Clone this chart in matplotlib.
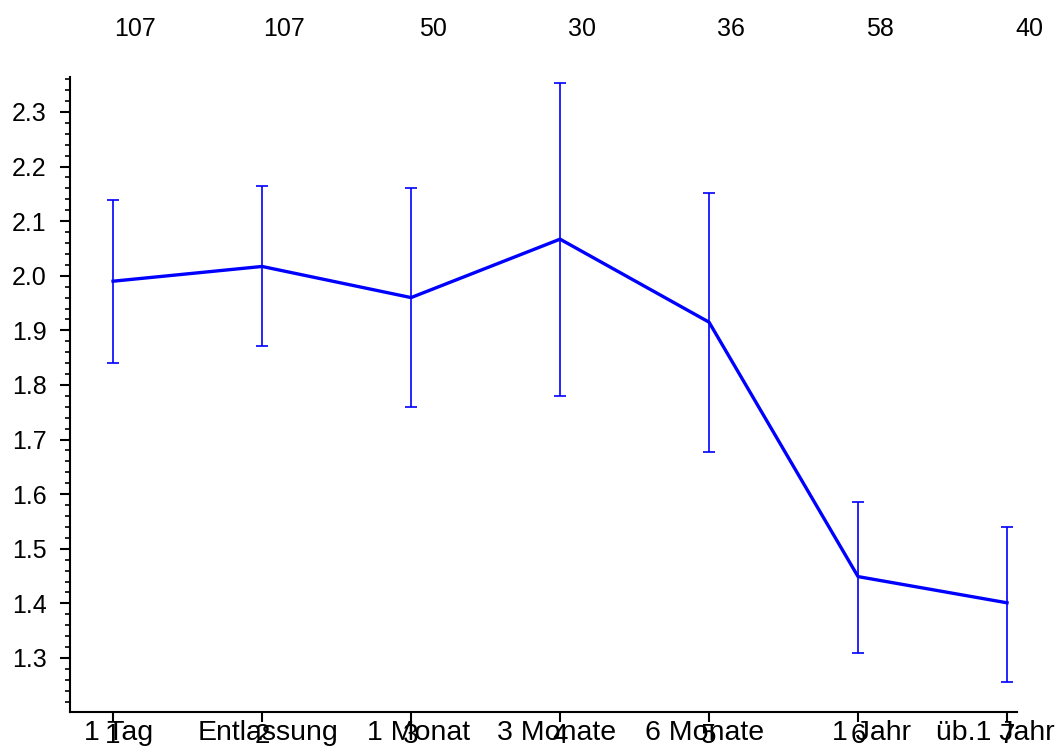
import matplotlib
matplotlib.use("Agg")
import matplotlib.pyplot as plt
from matplotlib.ticker import MultipleLocator, FormatStrFormatter
import numpy as np

plt.rcParams['font.family'] = ['Liberation Sans', 'DejaVu Sans']

# Measurement times, group sizes and mean scores with error limits
positions = [1, 2, 3, 4, 5, 6, 7]
categories = ["1 Tag", "Entlassung", "1 Monat", "3 Monate", "6 Monate", "1 Jahr", "üb.1 Jahr"]
counts = [107, 107, 50, 30, 36, 58, 40]
means = [1.990, 2.017, 1.960, 2.067, 1.915, 1.449, 1.401]
upper = [2.139, 2.164, 2.161, 2.353, 2.151, 1.586, 1.540]
lower = [1.841, 1.871, 1.759, 1.779, 1.678, 1.309, 1.256]

# Category label anchor points (shifted slightly from the numeric ticks)
label_x = [1.04, 2.04, 3.05, 3.98, 4.97, 6.09, 6.92]

fig = plt.figure(figsize=(10.62, 7.53), dpi=100)
ax = fig.add_axes([70 / 1062, (753 - 712) / 753, (1017 - 70) / 1062, (712 - 77) / 753])

m = np.array(means)
yerr = np.vstack([m - np.array(lower), np.array(upper) - m])
ax.errorbar(positions, means, yerr=yerr, color='#0000ff', linewidth=2.4,
            elinewidth=1.2, capsize=4.5, capthick=1.2)

ax.set_xlim(0.711, 7.067)
ax.set_ylim(1.201, 2.364)

ax.yaxis.set_major_locator(MultipleLocator(0.1))
ax.yaxis.set_minor_locator(MultipleLocator(0.02))
ax.yaxis.set_major_formatter(FormatStrFormatter('%.1f'))
ax.set_xticks(positions)
ax.set_xticklabels([str(p) for p in positions])

for side in ('top', 'right'):
    ax.spines[side].set_visible(False)
for side in ('left', 'bottom'):
    ax.spines[side].set_linewidth(1.5)

ax.tick_params(axis='y', which='major', length=7, width=1.5, labelsize=18, pad=10)
ax.tick_params(axis='y', which='minor', length=3.5, width=1.2)
ax.tick_params(axis='x', which='major', length=7, width=1.5, labelsize=20, pad=1)

# Category names drawn on the same line as the tick numbers
for x, name in zip(label_x, categories):
    ax.text(x, -0.012, name, transform=ax.get_xaxis_transform(), ha='center',
            va='top', fontsize=20.5)

# Group sizes above the plot
for p, n in zip(positions, counts):
    ax.text(p + 0.15, 1.075, str(n), transform=ax.get_xaxis_transform(),
            ha='center', va='center', fontsize=18)

fig.savefig("out.png", dpi=100)
